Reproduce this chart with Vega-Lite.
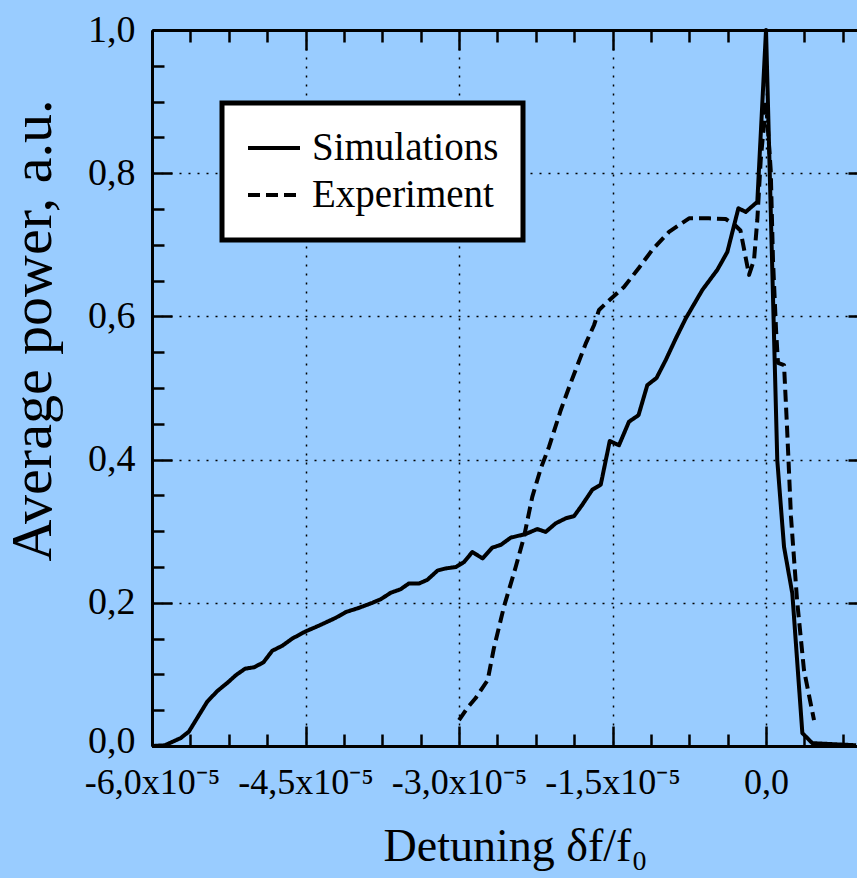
{
  "$schema": "https://vega.github.io/schema/vega-lite/v6.json",
  "autosize": {"type": "none"},
  "padding": {"left": 152, "top": 30, "right": 0, "bottom": 132},
  "width": 705,
  "height": 716,
  "background": "#99CCFF",
  "config": {
    "view": {"stroke": null},
    "font": "Liberation Serif",
    "legend": {"strokeWidth": 5},
    "axis": {
      "domainColor": "#000000",
      "domainWidth": 3,
      "tickColor": "#000000",
      "tickWidth": 2.5,
      "labelColor": "#000000",
      "labelFont": "Liberation Serif",
      "labelFontSize": 36,
      "labelFlush": false,
      "labelOverlap": false,
      "labelBound": false,
      "titleFont": "Liberation Serif",
      "titleFontWeight": "normal",
      "titleColor": "#000000",
      "gridColor": "#000000",
      "gridDash": [2, 7],
      "gridWidth": 1.5
    }
  },
  "data": {
    "values": [
      {"x": -6.0e-5, "y": 0.0, "series": "Simulations"},
      {"x": -5.875e-5, "y": 0.001, "series": "Simulations"},
      {"x": -5.72e-5, "y": 0.011, "series": "Simulations"},
      {"x": -5.64e-5, "y": 0.020, "series": "Simulations"},
      {"x": -5.46e-5, "y": 0.062, "series": "Simulations"},
      {"x": -5.36e-5, "y": 0.077, "series": "Simulations"},
      {"x": -5.265e-5, "y": 0.088, "series": "Simulations"},
      {"x": -5.18e-5, "y": 0.099, "series": "Simulations"},
      {"x": -5.09e-5, "y": 0.108, "series": "Simulations"},
      {"x": -5.0e-5, "y": 0.110, "series": "Simulations"},
      {"x": -4.91e-5, "y": 0.117, "series": "Simulations"},
      {"x": -4.825e-5, "y": 0.133, "series": "Simulations"},
      {"x": -4.727e-5, "y": 0.140, "series": "Simulations"},
      {"x": -4.63e-5, "y": 0.150, "series": "Simulations"},
      {"x": -4.5e-5, "y": 0.160, "series": "Simulations"},
      {"x": -4.37e-5, "y": 0.168, "series": "Simulations"},
      {"x": -4.205e-5, "y": 0.179, "series": "Simulations"},
      {"x": -4.107e-5, "y": 0.187, "series": "Simulations"},
      {"x": -3.977e-5, "y": 0.193, "series": "Simulations"},
      {"x": -3.847e-5, "y": 0.200, "series": "Simulations"},
      {"x": -3.765e-5, "y": 0.205, "series": "Simulations"},
      {"x": -3.667e-5, "y": 0.214, "series": "Simulations"},
      {"x": -3.57e-5, "y": 0.219, "series": "Simulations"},
      {"x": -3.49e-5, "y": 0.227, "series": "Simulations"},
      {"x": -3.39e-5, "y": 0.227, "series": "Simulations"},
      {"x": -3.31e-5, "y": 0.232, "series": "Simulations"},
      {"x": -3.21e-5, "y": 0.245, "series": "Simulations"},
      {"x": -3.13e-5, "y": 0.248, "series": "Simulations"},
      {"x": -3.03e-5, "y": 0.250, "series": "Simulations"},
      {"x": -2.95e-5, "y": 0.257, "series": "Simulations"},
      {"x": -2.87e-5, "y": 0.271, "series": "Simulations"},
      {"x": -2.77e-5, "y": 0.262, "series": "Simulations"},
      {"x": -2.675e-5, "y": 0.277, "series": "Simulations"},
      {"x": -2.59e-5, "y": 0.281, "series": "Simulations"},
      {"x": -2.495e-5, "y": 0.291, "series": "Simulations"},
      {"x": -2.35e-5, "y": 0.296, "series": "Simulations"},
      {"x": -2.235e-5, "y": 0.303, "series": "Simulations"},
      {"x": -2.153e-5, "y": 0.299, "series": "Simulations"},
      {"x": -2.055e-5, "y": 0.311, "series": "Simulations"},
      {"x": -1.957e-5, "y": 0.318, "series": "Simulations"},
      {"x": -1.876e-5, "y": 0.321, "series": "Simulations"},
      {"x": -1.795e-5, "y": 0.337, "series": "Simulations"},
      {"x": -1.697e-5, "y": 0.358, "series": "Simulations"},
      {"x": -1.615e-5, "y": 0.365, "series": "Simulations"},
      {"x": -1.527e-5, "y": 0.426, "series": "Simulations"},
      {"x": -1.437e-5, "y": 0.420, "series": "Simulations"},
      {"x": -1.339e-5, "y": 0.453, "series": "Simulations"},
      {"x": -1.246e-5, "y": 0.462, "series": "Simulations"},
      {"x": -1.16e-5, "y": 0.504, "series": "Simulations"},
      {"x": -1.07e-5, "y": 0.514, "series": "Simulations"},
      {"x": -0.98e-5, "y": 0.539, "series": "Simulations"},
      {"x": -0.882e-5, "y": 0.569, "series": "Simulations"},
      {"x": -0.785e-5, "y": 0.597, "series": "Simulations"},
      {"x": -0.622e-5, "y": 0.637, "series": "Simulations"},
      {"x": -0.476e-5, "y": 0.665, "series": "Simulations"},
      {"x": -0.378e-5, "y": 0.690, "series": "Simulations"},
      {"x": -0.27e-5, "y": 0.751, "series": "Simulations"},
      {"x": -0.198e-5, "y": 0.746, "series": "Simulations"},
      {"x": -0.085e-5, "y": 0.760, "series": "Simulations"},
      {"x": 0.0, "y": 1.0, "series": "Simulations"},
      {"x": 0.110e-5, "y": 0.399, "series": "Simulations"},
      {"x": 0.176e-5, "y": 0.278, "series": "Simulations"},
      {"x": 0.257e-5, "y": 0.213, "series": "Simulations"},
      {"x": 0.355e-5, "y": 0.018, "series": "Simulations"},
      {"x": 0.452e-5, "y": 0.004, "series": "Simulations"},
      {"x": 0.88e-5, "y": 0.001, "series": "Simulations"},
      {"x": -3.0e-5, "y": 0.036, "series": "Experiment"},
      {"x": -2.92e-5, "y": 0.053, "series": "Experiment"},
      {"x": -2.837e-5, "y": 0.067, "series": "Experiment"},
      {"x": -2.72e-5, "y": 0.092, "series": "Experiment"},
      {"x": -2.66e-5, "y": 0.136, "series": "Experiment"},
      {"x": -2.56e-5, "y": 0.195, "series": "Experiment"},
      {"x": -2.446e-5, "y": 0.250, "series": "Experiment"},
      {"x": -2.365e-5, "y": 0.292, "series": "Experiment"},
      {"x": -2.284e-5, "y": 0.348, "series": "Experiment"},
      {"x": -2.20e-5, "y": 0.388, "series": "Experiment"},
      {"x": -2.12e-5, "y": 0.418, "series": "Experiment"},
      {"x": -2.006e-5, "y": 0.469, "series": "Experiment"},
      {"x": -1.909e-5, "y": 0.507, "series": "Experiment"},
      {"x": -1.762e-5, "y": 0.562, "series": "Experiment"},
      {"x": -1.68e-5, "y": 0.588, "series": "Experiment"},
      {"x": -1.632e-5, "y": 0.609, "series": "Experiment"},
      {"x": -1.566e-5, "y": 0.618, "series": "Experiment"},
      {"x": -1.388e-5, "y": 0.641, "series": "Experiment"},
      {"x": -1.241e-5, "y": 0.668, "series": "Experiment"},
      {"x": -1.111e-5, "y": 0.693, "series": "Experiment"},
      {"x": -0.948e-5, "y": 0.718, "series": "Experiment"},
      {"x": -0.752e-5, "y": 0.737, "series": "Experiment"},
      {"x": -0.557e-5, "y": 0.737, "series": "Experiment"},
      {"x": -0.394e-5, "y": 0.736, "series": "Experiment"},
      {"x": -0.30e-5, "y": 0.727, "series": "Experiment"},
      {"x": -0.25e-5, "y": 0.72, "series": "Experiment"},
      {"x": -0.166e-5, "y": 0.658, "series": "Experiment"},
      {"x": -0.117e-5, "y": 0.679, "series": "Experiment"},
      {"x": -0.085e-5, "y": 0.735, "series": "Experiment"},
      {"x": -0.052e-5, "y": 0.818, "series": "Experiment"},
      {"x": 0.0, "y": 0.90, "series": "Experiment"},
      {"x": 0.046e-5, "y": 0.804, "series": "Experiment"},
      {"x": 0.068e-5, "y": 0.679, "series": "Experiment"},
      {"x": 0.098e-5, "y": 0.581, "series": "Experiment"},
      {"x": 0.117e-5, "y": 0.535, "series": "Experiment"},
      {"x": 0.176e-5, "y": 0.532, "series": "Experiment"},
      {"x": 0.205e-5, "y": 0.446, "series": "Experiment"},
      {"x": 0.244e-5, "y": 0.320, "series": "Experiment"},
      {"x": 0.303e-5, "y": 0.204, "series": "Experiment"},
      {"x": 0.371e-5, "y": 0.106, "series": "Experiment"},
      {"x": 0.469e-5, "y": 0.036, "series": "Experiment"}
    ]
  },
  "resolve": {"axis": {"x": "independent", "y": "independent"}},
  "layer": [
    {
      "mark": {"type": "line", "color": "#000000", "strokeWidth": 4, "strokeJoin": "round"},
      "encoding": {
        "x": {
          "field": "x", "type": "quantitative",
          "scale": {"domain": [-6.0e-5, 0.889e-5], "nice": false, "zero": false},
          "axis": {
            "orient": "bottom",
            "values": [-6.0e-5, -5.625e-5, -5.25e-5, -4.875e-5, -4.5e-5, -4.125e-5, -3.75e-5, -3.375e-5, -3.0e-5, -2.625e-5, -2.25e-5, -1.875e-5, -1.5e-5, -1.125e-5, -0.75e-5, -0.375e-5, 0, 0.375e-5, 0.75e-5],
            "labelExpr": "abs(datum.value*100000/1.5 - round(datum.value*100000/1.5)) > 0.01 ? '' : (abs(datum.value) < 0.000000001 ? '0,0' : '-' + replace(format(abs(datum.value)*100000, '.1f'), '.', ',') + 'x10⁻⁵')",
            "tickSize": {"condition": {"test": "abs(datum.value*100000/1.5 - round(datum.value*100000/1.5)) < 0.01", "value": -20}, "value": -12},
            "grid": true,
            "gridOpacity": {"condition": {"test": "abs(datum.value*100000/1.5 - round(datum.value*100000/1.5)) < 0.01", "value": 1}, "value": 0},
            "labelPadding": 39,
            "title": "Detuning  δf/f₀",
            "titleFontSize": 46,
            "titleX": 363,
            "titleY": 114,
            "titleAlign": "center",
            "titleBaseline": "alphabetic"
          }
        },
        "y": {
          "field": "y", "type": "quantitative",
          "scale": {"domain": [0, 1], "nice": false, "zero": false},
          "axis": {
            "orient": "left",
            "values": [0, 0.05, 0.1, 0.15, 0.2, 0.25, 0.3, 0.35, 0.4, 0.45, 0.5, 0.55, 0.6, 0.65, 0.7, 0.75, 0.8, 0.85, 0.9, 0.95, 1.0],
            "labelExpr": "abs(datum.value*5 - round(datum.value*5)) > 0.01 ? '' : replace(format(datum.value, '.1f'), '.', ',')",
            "tickSize": {"condition": {"test": "abs(datum.value*5 - round(datum.value*5)) < 0.01", "value": -20}, "value": -12},
            "grid": true,
            "gridOpacity": {"condition": {"test": "abs(datum.value*5 - round(datum.value*5)) < 0.01", "value": 1}, "value": 0},
            "labelOffset": {"condition": {"test": "datum.value < 0.01", "value": -5}, "value": 0},
            "labelPadding": 37,
            "labelFontSize": 38,
            "title": "Average power, a.u.",
            "titleFontSize": 58,
            "titleAngle": 270,
            "titleX": -102,
            "titleY": 300,
            "titleAlign": "center",
            "titleBaseline": "alphabetic"
          }
        },
        "strokeDash": {
          "field": "series", "type": "nominal",
          "scale": {"domain": ["Simulations", "Experiment"], "range": [[1, 0], [12, 6]]},
          "legend": {
            "orient": "none",
            "legendX": 70,
            "legendY": 73,
            "title": null,
            "fillColor": "#FFFFFF",
            "strokeColor": "#000000",
            "padding": 24,
            "labelFont": "Liberation Serif",
            "labelFontSize": 39,
            "labelColor": "#000000",
            "labelLimit": 400,
            "labelOffset": 10,
            "rowPadding": 5,
            "clipHeight": 42,
            "symbolType": "stroke",
            "symbolSize": 2700,
            "symbolStrokeWidth": 4,
            "symbolStrokeColor": "#000000"
          }
        }
      }
    },
    {
      "mark": {"type": "line", "strokeOpacity": 0},
      "encoding": {
        "x": {
          "field": "x", "type": "quantitative",
          "scale": {"domain": [-6.0e-5, 0.889e-5], "nice": false, "zero": false},
          "axis": {
            "orient": "top",
            "values": [-6.0e-5, -5.625e-5, -5.25e-5, -4.875e-5, -4.5e-5, -4.125e-5, -3.75e-5, -3.375e-5, -3.0e-5, -2.625e-5, -2.25e-5, -1.875e-5, -1.5e-5, -1.125e-5, -0.75e-5, -0.375e-5, 0, 0.375e-5, 0.75e-5],
            "labels": false,
            "grid": false,
            "title": null,
            "tickSize": {"condition": {"test": "abs(datum.value*100000/1.5 - round(datum.value*100000/1.5)) < 0.01", "value": -20}, "value": -12}
          }
        },
        "y": {
          "field": "y", "type": "quantitative",
          "scale": {"domain": [0, 1], "nice": false, "zero": false},
          "axis": {
            "orient": "right",
            "domain": false,
            "values": [0, 0.2, 0.4, 0.6, 0.8, 1.0],
            "labels": false,
            "grid": false,
            "title": null,
            "tickSize": -9
          }
        }
      }
    }
  ]
}
